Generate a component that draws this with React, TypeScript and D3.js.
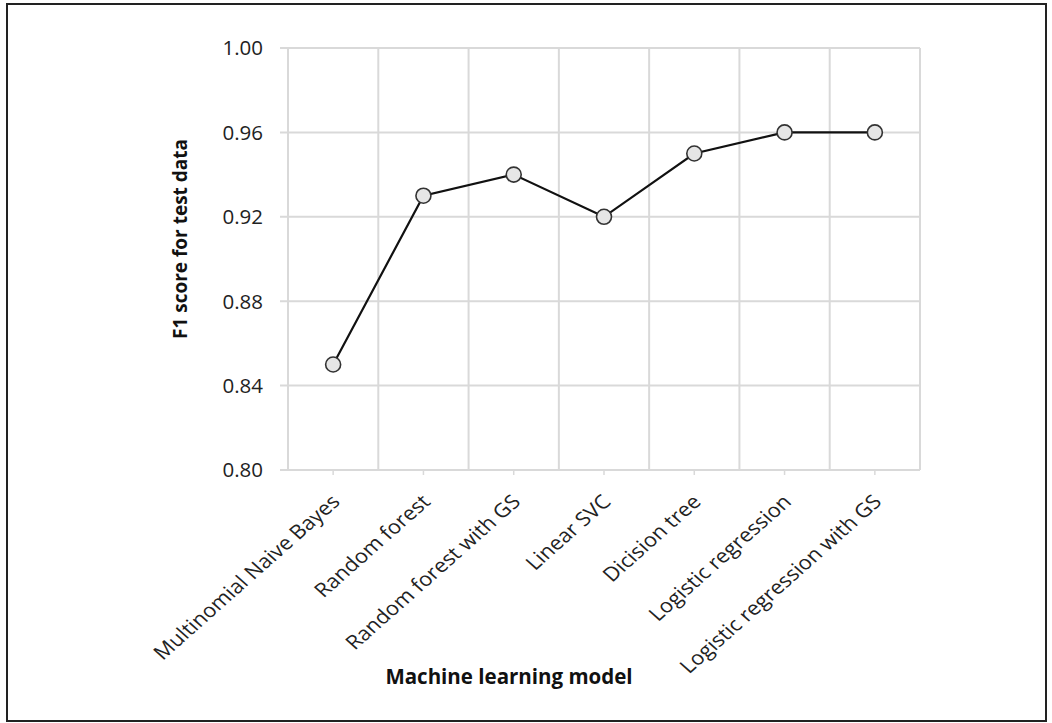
import React from "react";
import * as d3 from "d3";

const categories = [
  "Multinomial Naive Bayes",
  "Random forest",
  "Random forest with GS",
  "Linear SVC",
  "Dicision tree",
  "Logistic regression",
  "Logistic regression with GS",
];
const f1Scores = [0.85, 0.93, 0.94, 0.92, 0.95, 0.96, 0.96];
const yTicks = [0.8, 0.84, 0.88, 0.92, 0.96, 1.0];

const W = 1052;
const H = 723;
const left = 288;
const right = 920;
const top = 48;
const bottom = 470;
const FONT = "'Open Sans', 'Liberation Sans', sans-serif";

export default function App() {
  const x = d3.scaleBand<string>().domain(categories).range([left, right]).padding(0);
  const y = d3.scaleLinear().domain([0.8, 1.0]).range([bottom, top]);
  const line = d3
    .line<number>()
    .x((_, i) => x(categories[i])! + x.bandwidth() / 2)
    .y((d) => y(d));
  const boundaries = categories.map((c) => x(c)!).concat([right]);

  return (
    <svg
      width={W}
      height={H}
      style={{ position: "absolute", left: 0, top: 0, background: "#fff" }}
    >
      <rect x={7} y={4} width={1039} height={717} fill="#fff" stroke="#222" strokeWidth={2} />
      {yTicks.map((t) => (
        <g key={t}>
          <line x1={left - 8} x2={right} y1={y(t)} y2={y(t)} stroke="#d9d9d9" strokeWidth={2} />
          <text
            x={263}
            y={y(t)}
            dy="0.36em"
            textAnchor="end"
            fontFamily={FONT}
            fontSize={20.5}
            fill="#222"
          >
            {t.toFixed(2)}
          </text>
        </g>
      ))}
      {boundaries.map((b, i) => (
        <line key={i} x1={b} x2={b} y1={top} y2={bottom} stroke="#d9d9d9" strokeWidth={2} />
      ))}
      {categories.map((c) => {
        const cx = x(c)! + x.bandwidth() / 2;
        return (
          <g key={c}>
            <line x1={cx} x2={cx} y1={bottom} y2={bottom + 5} stroke="#d9d9d9" strokeWidth={1.5} />
            <text
              transform={`translate(${cx + 8},${bottom + 33}) scale(1.13,1) rotate(-45)`}
              textAnchor="end"
              fontFamily={FONT}
              fontSize={19.5}
              fill="#222"
            >
              {c}
            </text>
          </g>
        );
      })}
      <path d={line(f1Scores)!} fill="none" stroke="#111" strokeWidth={2.2} />
      {f1Scores.map((v, i) => (
        <circle
          key={i}
          cx={x(categories[i])! + x.bandwidth() / 2}
          cy={y(v)}
          r={7.5}
          fill="#e6e6e6"
          stroke="#333"
          strokeWidth={1.6}
        />
      ))}
      <text
        transform={`translate(180,239) rotate(-90)`}
        textAnchor="middle"
        dy="0.35em"
        fontFamily={FONT}
        fontWeight="bold"
        fontSize={19}
        fill="#111"
      >
        F1 score for test data
      </text>
      <text
        x={509}
        y={684}
        textAnchor="middle"
        fontFamily={FONT}
        fontWeight="bold"
        fontSize={20.5}
        fill="#111"
      >
        Machine learning model
      </text>
    </svg>
  );
}
